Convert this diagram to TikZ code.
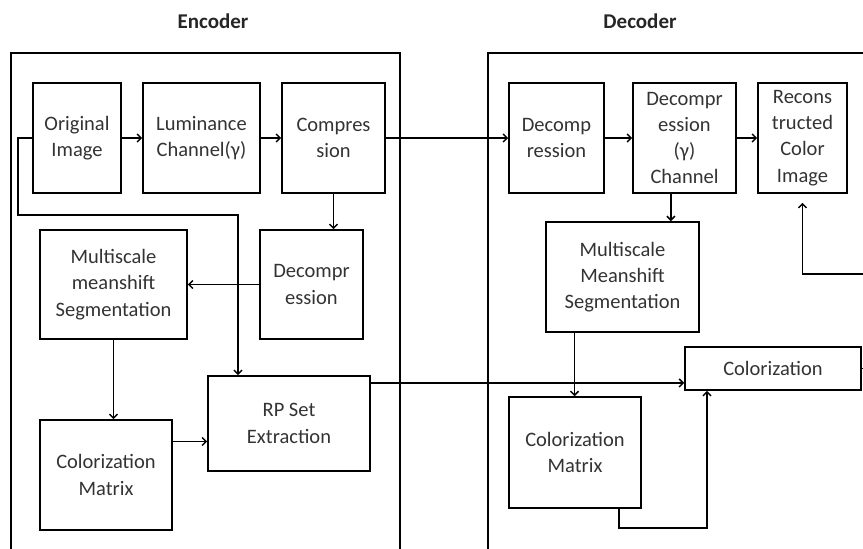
\documentclass[tikz,border=0pt]{standalone}
\usepackage{fontspec}
\setmainfont{Carlito}
\usetikzlibrary{arrows.meta,calc}
\begin{document}
\begin{tikzpicture}[x=1pt,y=-1pt,
    block/.style={draw, line width=1.6pt, align=center, inner sep=0pt, text=black!80,
                  font=\fontsize{20.5}{26.3}\selectfont},
    title/.style={font=\bfseries\fontsize{21}{25}\selectfont, text=black!85},
    wire/.style={line width=1.5pt},
    flow/.style={wire, -{Straight Barb[length=4pt,width=8pt]}}]
    \useasboundingbox (0,0) rectangle (863,549);
    % frames, open at the bottom
    \draw [wire] (11,549) -- (11,53) -- (400,53) -- (400,549);% Encoder frame
    \draw [wire] (488,549) -- (488,53) -- (863,53);% Decoder frame
    \node [title] (EncTitle) at (213,21) {Encoder};
    \node [title] (DecTitle) at (640,21) {Decoder};
    % encoder blocks
    \node [block, minimum width=88pt,  minimum height=110pt] (OrigImg)   at (77,138)    {Original\\Image};
    \node [block, minimum width=117pt, minimum height=110pt] (LumChan)   at (201.5,138) {Luminance\\Channel(γ)};
    \node [block, minimum width=103pt, minimum height=110pt] (Compress)  at (333.5,138) {Compres\\sion};
    \node [block, minimum width=103pt, minimum height=109pt] (EncDecomp) at (311.5,284.5) {Decompr\\ession};
    \node [block, minimum width=147pt, minimum height=109pt] (EncSeg)    at (113.5,284.5) {Multiscale\\meanshift\\Segmentation};
    \node [block, minimum width=162pt, minimum height=95pt]  (RPSet)     at (289,423.5) {RP Set\\Extraction};
    \node [block, minimum width=132pt, minimum height=110pt] (EncColMat) at (106,475)   {Colorization\\Matrix};
    % decoder blocks
    \node [block, minimum width=95pt,  minimum height=110pt] (DecDecomp) at (556.5,138) {Decomp\\ression};
    \node [block, minimum width=103pt, minimum height=110pt] (DecGamma)  at (684.5,138) {Decompr\\ession\\(γ)\\Channel};
    \node [block, minimum width=89pt,  minimum height=110pt] (Recons)    at (802.5,138) {Recons\\tructed\\Color\\Image};
    \node [block, minimum width=153pt, minimum height=110pt] (DecSeg)    at (622.5,277) {Multiscale\\Meanshift\\Segmentation};
    \node [block, minimum width=132pt, minimum height=111pt] (DecColMat) at (575,452.5) {Colorization\\Matrix};
    \node [block, minimum width=176pt, minimum height=43pt]  (Colorize)  at (773,368.5) {Colorization};
    % turning points
    \coordinate (TapLeft)  at (18,215);
    \coordinate (TapRight) at (238,215);
    \coordinate (MatOut)   at ($(EncColMat.north east)!0.2!(EncColMat.south east)$);
    \coordinate (RPOut)    at ($(RPSet.north east)!0.08!(RPSet.south east)$);
    \coordinate (GammaOut) at ($(DecGamma.south west)!0.37!(DecGamma.south east)$);
    \coordinate (SegOut)   at ($(DecSeg.south west)!0.19!(DecSeg.south east)$);
    \coordinate (CMOut)    at ($(DecColMat.south west)!0.83!(DecColMat.south east)$);
    \coordinate (CMTurn)   at (707,528);
    \coordinate (EdgeLow)  at (863,368.5);
    \coordinate (EdgeHigh) at (863,274);
    % encoder connectors
    \draw [flow] (OrigImg) -- (LumChan);
    \draw [flow] (LumChan) -- (Compress);
    \draw [flow] (Compress.south) -- (Compress.south |- EncDecomp.north);
    \draw [flow] (EncDecomp) -- (EncSeg);
    \draw [flow] (EncSeg.south) -- (EncSeg.south |- EncColMat.north);
    \draw [flow] (OrigImg.west) -| (TapLeft) -- (TapRight) -- (TapRight |- RPSet.north);
    \draw [flow] (MatOut) -- (MatOut -| RPSet.west);
    % encoder to decoder
    \draw [flow] (Compress) -- (DecDecomp);
    \draw [flow] (RPOut) -- (RPOut -| Colorize.west);
    % decoder connectors
    \draw [flow] (DecDecomp) -- (DecGamma);
    \draw [flow] (DecGamma) -- (Recons);
    \draw [flow] (GammaOut) -- (GammaOut |- DecSeg.north);
    \draw [flow] (SegOut) -- (SegOut |- DecColMat.north);
    \draw [flow] (CMOut) |- (CMTurn) -- (CMTurn |- Colorize.south);
    \draw [wire] (Colorize.east) -- (EdgeLow);
    \draw [flow, shorten >=9pt] (EdgeHigh) -| (Recons.south);
\end{tikzpicture}
\end{document}
